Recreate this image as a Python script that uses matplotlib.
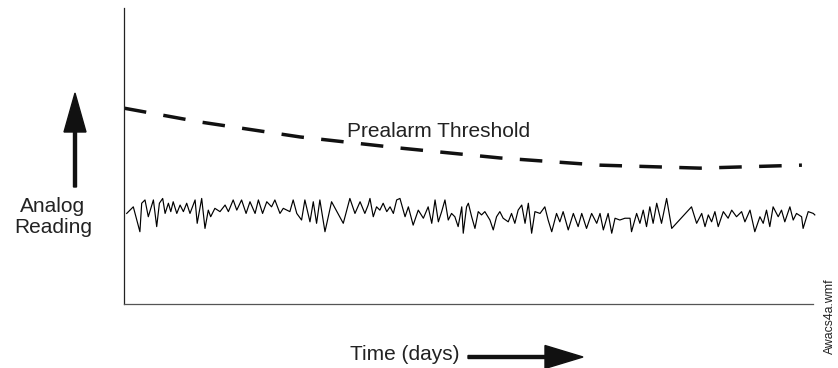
import matplotlib
matplotlib.use("Agg")
import matplotlib.pyplot as plt
import matplotlib.patches as mpatches
from matplotlib.transforms import IdentityTransform

plt.rcParams['font.family'] = ['Liberation Sans', 'DejaVu Sans']

# time in days, reading in arbitrary units
thresh_days = [0, 25.3, 58.7, 92, 125.3, 158.7, 192, 226.0]
thresh_vals = [65.3, 60.7, 55.7, 52.0, 48.7, 46.3, 45.3, 46.3]

sig_days = [0.9, 3.1, 5.3, 5.9, 7.0, 8.1, 9.8, 10.9, 11.8, 12.9, 13.7, 14.8, 15.6, 16.4,
            17.6, 18.7, 19.8, 20.9, 22.0, 23.7, 24.4, 25.9, 27.0, 28.1, 28.9, 30.3, 32.0,
            33.7, 34.8, 36.4, 37.6, 39.2, 40.7, 42.0, 43.7, 44.8, 46.2, 47.6, 49.2, 50.3,
            52.0, 53.1, 55.3, 56.4, 57.6,
            59.2, 60.3, 62.0, 63.1, 64.2, 65.3, 67.0, 69.2, 73.1, 75.3, 77.0, 78.7, 80.3,
            81.4, 82.0, 83.1, 84.2, 85.3, 86.4, 87.6, 88.7, 89.8, 90.9, 92.0, 93.7, 94.8,
            96.4, 98.1, 99.8, 101.4, 102.6, 103.7, 104.8, 105.9, 107.0, 108.1, 109.2, 110.3,
            111.4, 112.6, 113.1, 114.2,
            114.8, 115.9, 117.0, 118.1, 119.2, 120.3, 122.0, 123.1, 124.2, 125.3, 126.4,
            128.1, 129.2, 130.3, 131.4, 132.6, 133.7, 134.8, 135.9, 137.0, 138.7, 140.3,
            141.4, 142.6, 144.2, 145.3, 146.4, 148.1, 149.8, 151.4, 152.6, 154.2, 155.9,
            157.6, 158.7, 159.8, 161.4, 162.6, 163.7, 165.3, 167.0, 168.7, 169.2, 170.9,
            172.0, 173.1, 174.2, 175.3, 176.4, 177.6, 179.2, 180.9, 182.6, 189.2, 190.9,
            192.6, 193.7, 194.8, 195.9, 197.0, 198.1, 199.8, 201.4, 202.6, 204.2, 205.9,
            207.0, 208.7, 210.3, 212.0, 213.1, 214.2, 215.3, 216.4, 218.1, 219.2, 220.3,
            222.0, 223.1, 224.2, 225.9, 226.4, 228.1, 229.8, 230.3]
sig_vals = [30.2, 32.4, 24.1, 33.6, 34.7, 29.1, 34.7, 25.8, 33.6, 35.2, 30.2, 33.6, 30.8, 34.1,
            30.2, 33.0, 30.8, 33.6, 30.2, 34.7, 26.9, 35.2, 25.2, 31.3, 29.1, 31.9, 30.8,
            33.0, 30.8, 34.7, 31.3, 34.7, 30.2, 34.1, 30.2, 34.7, 30.2, 34.1, 32.4, 34.7,
            30.2, 31.9, 30.8, 34.7, 30.2,
            28.0, 34.7, 27.4, 34.1, 26.9, 34.7, 24.1, 34.1, 26.9, 35.2, 30.2, 34.1, 30.2,
            33.0, 35.2, 29.1, 32.4, 31.3, 33.6, 30.8, 32.4, 30.2, 34.7, 35.2, 29.1, 32.4,
            26.3, 31.3, 28.6, 32.4, 26.9, 34.7, 27.4, 30.8, 34.7, 28.0, 30.2, 29.1,
            25.8, 32.4, 23.6, 32.4,
            33.6, 29.1, 25.2, 30.8, 29.7, 30.8, 28.0, 24.7, 29.1, 30.8, 28.6,
            27.4, 30.2, 26.9, 31.3, 33.0, 26.9, 33.6, 23.6, 30.8, 30.2, 32.4,
            28.0, 24.1, 30.2, 27.4, 30.8, 24.7, 30.2, 25.8, 30.2, 25.2, 30.2,
            26.9, 30.2, 24.7, 30.2, 23.6, 28.6, 28.0, 28.6, 28.6, 24.1, 30.2,
            26.9, 31.3, 25.8, 32.4, 26.9, 33.6, 26.9, 35.2, 25.2, 32.4, 26.9,
            30.2, 25.8, 29.7, 27.4, 30.8, 25.8, 30.8, 28.6, 31.3, 29.1, 30.8,
            27.4, 31.3, 24.1, 29.1, 26.9, 31.3, 25.8, 32.4, 29.1, 31.3, 27.4,
            32.4, 28.0, 30.2, 29.1, 25.2, 30.8, 30.2, 29.7]

fig = plt.figure(figsize=(8.38, 3.68), dpi=100)
ax = fig.add_axes([124 / 838, 64 / 368, 689 / 838, 296 / 368])

ax.plot(sig_days, sig_vals, color='black', lw=0.85, clip_on=False)
ax.plot(thresh_days, thresh_vals, color='#111111', lw=2.5, dashes=(6.5, 5.0),
        dash_capstyle='butt')

ax.set_xlim(0, 229.7)
ax.set_ylim(0, 98.7)
ax.set_xticks([])
ax.set_yticks([])
for s in ['top', 'right']:
    ax.spines[s].set_visible(False)
ax.spines['left'].set_color('#222222')
ax.spines['bottom'].set_color('#555555')
ax.spines['left'].set_linewidth(0.9)
ax.spines['bottom'].set_linewidth(0.9)

ax.text(105, 57.5, 'Prealarm Threshold', fontsize=15, ha='center', va='center',
        color='#222222')

fig.text(53 / 838, 1 - 217 / 368, 'Analog\nReading', fontsize=15, ha='center',
         va='center', color='#222222', linespacing=1.15)
fig.text(405 / 838, 1 - 355 / 368, 'Time (days)', fontsize=15, ha='center',
         va='center', color='#222222')
fig.text(830 / 838, 1 - 316 / 368, 'Awacs4a.wmf', fontsize=8.8, rotation=90,
         ha='center', va='center', color='#222222')

# axis arrows, drawn in pixel space
up = mpatches.FancyArrow(75, 368 - 187, 0, 94, width=3, head_width=22, head_length=39,
                         length_includes_head=True, color='#111111',
                         transform=IdentityTransform())
right = mpatches.FancyArrow(468, 368 - 357, 115, 0, width=3, head_width=23,
                            head_length=38, length_includes_head=True,
                            color='#111111', transform=IdentityTransform())
fig.add_artist(up)
fig.add_artist(right)

fig.savefig('out.png', dpi=100)
